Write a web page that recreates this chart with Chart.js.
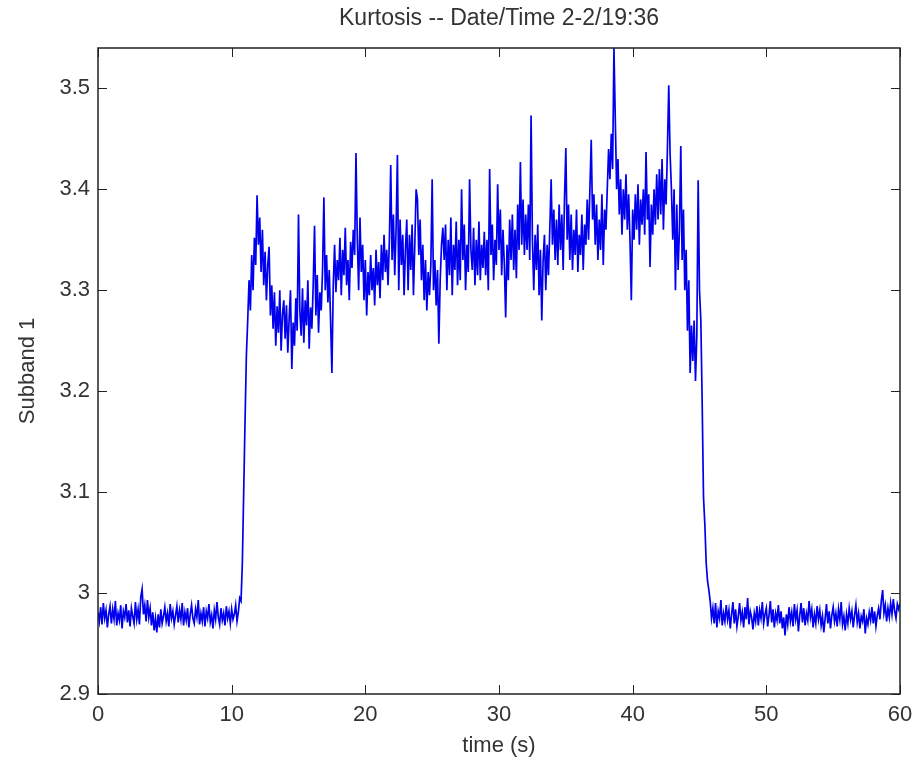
<!DOCTYPE html>
<html lang="en">
<head>
  <meta charset="UTF-8" />
  <title>Kurtosis -- Date/Time 2-2/19:36</title>
  <script src="https://cdn.jsdelivr.net/npm/chart.js"></script>
  <style>
    html, body {
      margin: 0;
      padding: 0;
      background: #ffffff;
    }
    canvas {
      display: block;
    }
  </style>
</head>
<body>
  <canvas id="kurtChart" width="919" height="763"></canvas>

  <script>
    // sample spacing of the trace, seconds
    const sampleStep = 0.1;

    // kurtosis of subband 1, one row per second (10 samples each)
    const kurtosis = [
      2.981, 2.972, 2.986, 2.969, 2.990, 2.975, 2.983, 2.966, 2.979, 2.987,
      2.970, 2.984, 2.974, 2.992, 2.968, 2.980, 2.973, 2.988, 2.965, 2.982,
      2.976, 2.989, 2.971, 2.983, 2.967, 2.985, 2.977, 2.970, 2.991, 2.974,
      2.984, 2.969, 2.996, 3.004, 2.979, 2.988, 2.972, 2.993, 2.976, 2.985,
      2.968, 2.981, 2.963, 2.975, 2.961, 2.979, 2.966, 2.984, 2.970, 2.977,
      2.986, 2.972, 2.980, 2.967, 2.989, 2.975, 2.982, 2.969, 2.978, 2.987,
      2.971, 2.983, 2.974, 2.990, 2.968, 2.981, 2.973, 2.985, 2.966, 2.979,
      2.988, 2.975, 2.970, 2.984, 2.976, 2.993, 2.969, 2.980, 2.972, 2.986,
      2.967, 2.982, 2.975, 2.989, 2.971, 2.978, 2.965, 2.983, 2.974, 2.991,
      2.976, 2.969, 2.985, 2.973, 2.980, 2.968, 2.987, 2.975, 2.982, 2.970,
      2.984, 2.974, 2.979, 2.988, 2.972, 2.981, 2.995, 2.992, 3.030, 3.100,
      3.170, 3.235, 3.270, 3.310, 3.280, 3.335, 3.300, 3.352, 3.325, 3.394,
      3.345, 3.372, 3.318, 3.360, 3.305, 3.338, 3.290, 3.325, 3.343, 3.275,
      3.305, 3.262, 3.298, 3.245, 3.284, 3.258, 3.300, 3.240, 3.276, 3.290,
      3.252, 3.285, 3.238, 3.272, 3.300, 3.222, 3.268, 3.245, 3.292, 3.260,
      3.375, 3.280, 3.255, 3.302, 3.248, 3.290, 3.265, 3.310, 3.242, 3.283,
      3.262, 3.305, 3.364, 3.275, 3.315, 3.258, 3.298, 3.280, 3.320, 3.392,
      3.300, 3.335, 3.288, 3.320, 3.270, 3.218, 3.305, 3.345, 3.298, 3.330,
      3.310, 3.352, 3.295, 3.340, 3.315, 3.362, 3.305, 3.330, 3.290, 3.348,
      3.322, 3.360, 3.335, 3.436, 3.350, 3.300, 3.372, 3.318, 3.345, 3.290,
      3.330, 3.275, 3.318, 3.295, 3.335, 3.300, 3.322, 3.285, 3.340, 3.305,
      3.328, 3.292, 3.345, 3.310, 3.355, 3.318, 3.340, 3.305, 3.350, 3.424,
      3.330, 3.375, 3.315, 3.360, 3.434, 3.300, 3.370, 3.325, 3.355, 3.295,
      3.340, 3.370, 3.300, 3.355, 3.320, 3.365, 3.295, 3.345, 3.400, 3.390,
      3.335, 3.370, 3.310, 3.345, 3.290, 3.330, 3.280, 3.318, 3.295, 3.325,
      3.410, 3.300, 3.330, 3.285, 3.320, 3.247, 3.310, 3.345, 3.362, 3.330,
      3.365, 3.300, 3.350, 3.315, 3.372, 3.295, 3.345, 3.320, 3.368, 3.305,
      3.350, 3.310, 3.400, 3.330, 3.365, 3.300, 3.345, 3.318, 3.410, 3.340,
      3.320, 3.362, 3.305, 3.350, 3.315, 3.368, 3.310, 3.345, 3.322, 3.358,
      3.315, 3.350, 3.300, 3.420, 3.335, 3.365, 3.310, 3.350, 3.325, 3.405,
      3.340, 3.380, 3.315, 3.360, 3.325, 3.273, 3.345, 3.310, 3.370, 3.330,
      3.375, 3.320, 3.360, 3.312, 3.385, 3.340, 3.427, 3.345, 3.390, 3.335,
      3.375, 3.340, 3.385, 3.330, 3.473, 3.350, 3.300, 3.355, 3.320, 3.365,
      3.295, 3.340, 3.270, 3.330, 3.355, 3.300, 3.345, 3.315, 3.360, 3.410,
      3.345, 3.380, 3.330, 3.370, 3.325, 3.385, 3.340, 3.375, 3.320, 3.390,
      3.441, 3.350, 3.385, 3.330, 3.375, 3.320, 3.360, 3.335, 3.380, 3.318,
      3.355, 3.335, 3.375, 3.320, 3.365, 3.345, 3.390, 3.350, 3.400, 3.449,
      3.370, 3.395, 3.345, 3.385, 3.330, 3.370, 3.340, 3.395, 3.325, 3.380,
      3.360, 3.400, 3.440, 3.410, 3.455, 3.420, 3.540, 3.470, 3.400, 3.430,
      3.375, 3.410, 3.355, 3.400, 3.370, 3.415, 3.360, 3.395, 3.350, 3.290,
      3.380, 3.350, 3.395, 3.360, 3.405, 3.345, 3.390, 3.365, 3.400, 3.355,
      3.437, 3.370, 3.395, 3.323, 3.385, 3.355, 3.400, 3.365, 3.415, 3.370,
      3.420, 3.375, 3.430, 3.360, 3.410, 3.385, 3.440, 3.503, 3.435, 3.400,
      3.350, 3.400, 3.300, 3.385, 3.320, 3.360, 3.443, 3.330, 3.380, 3.300,
      3.340, 3.260, 3.310, 3.218, 3.265, 3.230, 3.270, 3.210, 3.255, 3.409,
      3.300, 3.270, 3.189, 3.095, 3.068, 3.030, 3.012, 3.003, 2.992, 2.975,
      2.985, 2.970, 2.990, 2.966, 2.982, 2.975, 2.993, 2.968, 2.980, 2.972,
      2.988, 2.974, 2.983, 2.965, 2.979, 2.991, 2.970, 2.984, 2.967, 2.977,
      2.990, 2.973, 2.981, 2.966, 2.986, 2.974, 2.995, 2.969, 2.982, 2.976,
      2.964, 2.980, 2.972, 2.987, 2.968, 2.983, 2.975, 2.991, 2.970, 2.979,
      2.985, 2.967, 2.978, 2.992, 2.971, 2.984, 2.966, 2.980, 2.973, 2.988,
      2.970, 2.982, 2.965, 2.976, 2.958, 2.979, 2.969, 2.986, 2.972, 2.981,
      2.967, 2.989, 2.974, 2.983, 2.962, 2.978, 2.990, 2.971, 2.985, 2.968,
      2.980, 2.973, 2.992, 2.976, 2.984, 2.966, 2.979, 2.970, 2.987, 2.974,
      2.983, 2.968, 2.977, 2.961, 2.975, 2.989, 2.970, 2.982, 2.965, 2.978,
      2.986, 2.972, 2.980, 2.967, 2.984, 2.974, 2.991, 2.969, 2.977, 2.963,
      2.979, 2.970, 2.985, 2.974, 2.982, 2.966, 2.978, 2.988, 2.971, 2.980,
      2.965, 2.977, 2.972, 2.984, 2.960, 2.975, 2.969, 2.981, 2.973, 2.986,
      2.970, 2.982, 2.967, 2.978, 2.985, 2.974, 2.992, 3.003, 2.980, 2.988,
      2.972, 2.985, 2.976, 2.990, 2.979, 2.994, 2.982, 2.975, 2.989, 2.984,
      2.990
    ];

    const xTicks = [0, 10, 20, 30, 40, 50, 60];
    const yTicks = [2.9, 3.0, 3.1, 3.2, 3.3, 3.4, 3.5];

    const points = kurtosis.map((v, i) => ({ x: i * sampleStep, y: v }));

    const fontFamily = "'Liberation Sans', Arial, sans-serif";
    const textColor = '#333333';

    // MATLAB style box with inward tick marks on all four sides
    const matlabBox = {
      id: 'matlabBox',
      afterDatasetsDraw(chart) {
        const { ctx, chartArea: a, scales: { x, y } } = chart;
        const len = 9;
        ctx.save();
        ctx.strokeStyle = '#222222';
        ctx.lineWidth = 1;
        ctx.beginPath();
        x.ticks.forEach(t => {
          const px = Math.round(x.getPixelForValue(t.value)) + 0.5;
          ctx.moveTo(px, a.bottom); ctx.lineTo(px, a.bottom - len);
          ctx.moveTo(px, a.top); ctx.lineTo(px, a.top + len);
        });
        y.ticks.forEach(t => {
          const py = Math.round(y.getPixelForValue(t.value)) + 0.5;
          ctx.moveTo(a.left, py); ctx.lineTo(a.left + len, py);
          ctx.moveTo(a.right, py); ctx.lineTo(a.right - len, py);
        });
        ctx.stroke();
        ctx.lineWidth = 1.5;
        ctx.strokeRect(a.left, a.top, a.right - a.left, a.bottom - a.top);
        ctx.restore();
      }
    };

    const ctx = document.getElementById('kurtChart').getContext('2d');
    new Chart(ctx, {
      type: 'line',
      data: {
        datasets: [{
          label: 'Subband 1',
          data: points,
          borderColor: '#0000ee',
          borderWidth: 1.7,
          pointRadius: 0,
          tension: 0,
          fill: false
        }]
      },
      options: {
        responsive: false,
        animation: false,
        layout: { padding: { left: 0, right: 19, top: 0, bottom: 0 } },
        plugins: {
          legend: { display: false },
          tooltip: { enabled: false }
        },
        scales: {
          // top axis only carries the title, centred over the axes like MATLAB
          top: {
            type: 'linear',
            position: 'top',
            min: 0,
            max: 60,
            afterFit: s => { s.height = 48; s.paddingLeft = 0; s.paddingRight = 0; },
            grid: { display: false, drawTicks: false },
            border: { display: false },
            ticks: { display: false },
            title: {
              display: true,
              text: 'Kurtosis -- Date/Time 2-2/19:36',
              color: textColor,
              font: { family: fontFamily, size: 23 },
              padding: { top: 5, bottom: 0 }
            }
          },
          x: {
            type: 'linear',
            position: 'bottom',
            min: 0,
            max: 60,
            afterBuildTicks: s => { s.ticks = xTicks.map(v => ({ value: v })); },
            afterFit: s => { s.height = 69; s.paddingLeft = 0; s.paddingRight = 0; },
            grid: { display: false, drawTicks: false },
            border: { display: false },
            ticks: {
              color: textColor,
              padding: 8,
              maxRotation: 0,
              font: { family: fontFamily, size: 22 }
            },
            title: {
              display: true,
              text: 'time (s)',
              color: textColor,
              font: { family: fontFamily, size: 22 },
              padding: { top: 0, bottom: 4 }
            }
          },
          y: {
            type: 'linear',
            min: 2.9,
            max: 3.54,
            afterBuildTicks: s => { s.ticks = yTicks.map(v => ({ value: v })); },
            afterFit: s => { s.width = 98; s.paddingTop = 0; s.paddingBottom = 0; },
            grid: { display: false, drawTicks: false },
            border: { display: false },
            ticks: {
              color: textColor,
              padding: 8,
              font: { family: fontFamily, size: 22 },
              callback: v => String(+v.toFixed(1))
            },
            title: {
              display: true,
              text: 'Subband 1',
              color: textColor,
              font: { family: fontFamily, size: 22 },
              padding: { top: 15, bottom: 0 }
            }
          }
        }
      },
      plugins: [matlabBox]
    });
  </script>
</body>
</html>
